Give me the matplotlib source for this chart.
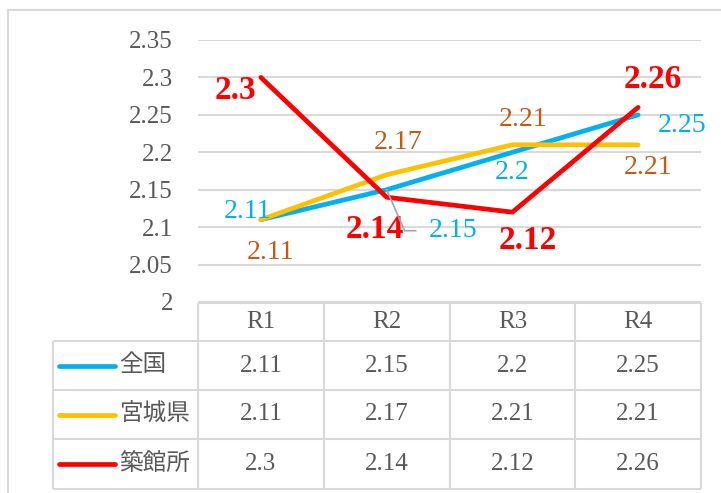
import matplotlib.pyplot as plt
from matplotlib.lines import Line2D

# data
categories = ["R1", "R2", "R3", "R4"]
series_names = ["全国", "宮城県", "築館所"]
zenkoku = [2.11, 2.15, 2.2, 2.25]
miyagi = [2.11, 2.17, 2.21, 2.21]
tsukidate = [2.3, 2.14, 2.12, 2.26]
y_ticks = [2, 2.05, 2.1, 2.15, 2.2, 2.25, 2.3, 2.35]

series = [zenkoku, miyagi, tsukidate]
line_colors = ["#00B0F0", "#FFC000", "#FF0000"]
label_colors = ["#00B0F0", "#C55A11", "#FF0000"]

# label offsets in pixels (dx, dy up)
label_offsets = [
    [(-13, 8), (66, -41), (0, -20), (44, -11)],
    [(10, -33), (11, 32), (11, 25), (10, -23)],
    [(-25, -13), (-12, -32), (15, -28), (15, 28)],
]

FONT = ["Liberation Serif", "Noto Sans CJK JP"]
GRAY = "#595959"
GRID = "#D9D9D9"
W, H = 721, 493

plt.rcParams["font.family"] = FONT

fig = plt.figure(figsize=(W / 100, H / 100), dpi=100)


def fx(px):
    return px / W


def fy(py):
    return 1 - py / H


# outer frame
fig.add_artist(Line2D([fx(8), fx(721)], [fy(10), fy(10)], color=GRID, lw=1.5))
fig.add_artist(Line2D([fx(8), fx(8)], [fy(10), fy(493)], color=GRID, lw=1.5))

# main chart
ax = fig.add_axes([fx(198), fy(302), fx(701) - fx(198), fy(40) - fy(302)])
x = list(range(len(categories)))
for vals, col in zip(series, line_colors):
    ax.plot(x, vals, color=col, lw=3.4, solid_capstyle="round", zorder=3)

ax.set_xlim(-0.5, 3.5)
ax.set_ylim(2, 2.35)
ax.set_yticks(y_ticks)
ax.set_yticklabels([f"{v:g}" for v in y_ticks])
ax.tick_params(axis="y", length=0, pad=18, labelsize=18, labelcolor=GRAY)
ax.set_xticks([])
ax.grid(axis="y", color=GRID, lw=1.5)
for s in ax.spines.values():
    s.set_visible(False)

for i, vals in enumerate(series):
    for j, v in enumerate(vals):
        dx, dy = label_offsets[i][j]
        bold = i == 2
        ax.annotate(f"{v:g}", (j, v), xytext=(dx, dy), textcoords="offset pixels",
                    ha="center", va="center", color=label_colors[i],
                    fontsize=24 if bold else 20,
                    fontweight="bold" if bold else "normal", zorder=4)

# leader line for 全国 R2 label
fig.canvas.draw()
p = ax.transData.transform((1, zenkoku[1]))
fig.add_artist(Line2D([p[0], p[0] + 18, p[0] + 29], [p[1], p[1] - 41, p[1] - 41],
                      transform=None, color="#A6A6A6", lw=1.2))

# data table
tx0, tx1 = 53, 701
tax = fig.add_axes([fx(tx0), fy(489), fx(tx1) - fx(tx0), fy(303) - fy(489)])
left = -0.5 - (198 - tx0) / 125.75
tax.set_xlim(left, 3.5)
tax.set_ylim(186, 0)
tax.axis("off")
rows = [0, 38, 87, 136, 186]
tax.hlines(0, -0.5, 3.5, color=GRID, lw=1.5, clip_on=False)
tax.hlines(rows[1:], left, 3.5, color=GRID, lw=1.5, clip_on=False)
tax.vlines(left, rows[1], rows[-1], color=GRID, lw=1.5, clip_on=False)
tax.vlines([-0.5, 0.5, 1.5, 2.5, 3.5], 0, 186, color=GRID, lw=1.5, clip_on=False)

for j, c in enumerate(categories):
    tax.text(j, 19, c, ha="center", va="center", fontsize=18, color=GRAY)

for i, (name, vals) in enumerate(zip(series_names, series)):
    yc = (rows[i + 1] + rows[i + 2]) / 2
    tax.plot([-0.5 - 139 / 125.75, -0.5 - 83 / 125.75], [yc, yc],
             color=line_colors[i], lw=3.4, solid_capstyle="round", clip_on=False)
    tax.text(-0.5 - 79 / 125.75, yc, name, ha="left", va="center",
             fontsize=17, color=GRAY)
    for j, v in enumerate(vals):
        tax.text(j, yc, f"{v:g}", ha="center", va="center", fontsize=18, color=GRAY)

fig.savefig("out.png", dpi=100)
